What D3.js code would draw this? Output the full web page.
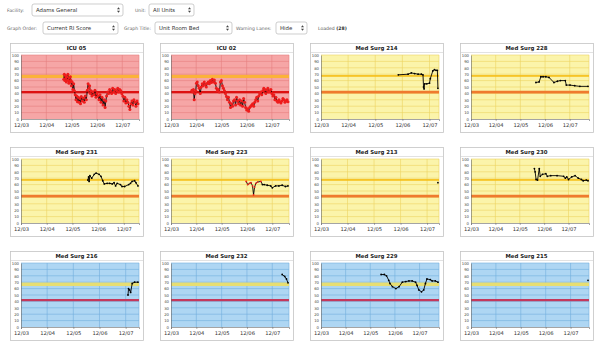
<!DOCTYPE html>
<html><head><meta charset="utf-8">
<script src="https://cdn.jsdelivr.net/npm/d3@7"></script>
<style>
html,body{margin:0;padding:0;background:#fff;}
svg{display:block;font-family:"DejaVu Sans",Verdana,sans-serif;}
</style></head>
<body><svg id="c" width="600" height="341"></svg>
<script>
// ---------- DATA ----------
const dayLabels = ["12/03","12/04","12/05","12/06","12/07"];
const yTicks = [0,10,20,30,40,50,60,70,80,90,100];
const titles = ["ICU 05","ICU 02","Med Surg 214","Med Surg 228","Med Surg 231","Med Surg 223","Med Surg 213","Med Surg 230","Med Surg 216","Med Surg 232","Med Surg 229","Med Surg 215"];
const risk = ["high","high","medium","medium","medium","medium","medium","medium","low","low","low","low"];
// times are days since 12/03 00:00
const icu05T = [1.69,1.71,1.73,1.75,1.77,1.79,1.81,1.83,1.85,1.87,1.89,1.91,1.93,1.95,1.97,1.99,2.02,2.05,2.08,2.11,2.14,2.17,2.20,2.23,2.26,2.29,2.32,2.35,2.38,2.42,2.46,2.50,2.54,2.58,2.62,2.65,2.68,2.71,2.74,2.77,2.80,2.84,2.88,2.92,2.96,3.00,3.04,3.08,3.12,3.16,3.20,3.24,3.28,3.32,3.35,3.38,3.42,3.46,3.50,3.54,3.58,3.62,3.66,3.70,3.74,3.78,3.82,3.86,3.90,3.94,3.98,4.02,4.06,4.10,4.14,4.18,4.22,4.26,4.30,4.34,4.38,4.42,4.46,4.50,4.54,4.58,4.62];
const icu05V = [62,70,60,68,64,58,66,61,70,60,56,64,58,66,60,52,58,46,55,44,38,30,36,27,34,26,32,24,35,28,33,26,36,30,45,55,48,52,40,44,36,42,38,45,34,40,36,30,38,26,34,22,30,18,28,36,42,40,46,44,40,48,42,46,40,44,48,42,46,44,40,36,28,34,25,30,26,20,15,24,28,22,30,26,20,28,24];
const icu02T = [0.83,0.86,0.89,0.92,0.95,0.98,1.01,1.04,1.08,1.12,1.16,1.20,1.24,1.28,1.32,1.36,1.40,1.44,1.48,1.52,1.56,1.60,1.64,1.68,1.72,1.76,1.80,1.84,1.88,1.92,1.96,2.00,2.04,2.08,2.12,2.16,2.20,2.24,2.28,2.32,2.36,2.40,2.44,2.48,2.52,2.56,2.60,2.64,2.68,2.72,2.76,2.80,2.84,2.88,2.92,2.96,3.00,3.04,3.08,3.12,3.16,3.20,3.24,3.28,3.32,3.36,3.40,3.44,3.48,3.52,3.56,3.60,3.64,3.68,3.72,3.76,3.80,3.84,3.88,3.92,3.96,4.00,4.04,4.08,4.12,4.16,4.20,4.24,4.28,4.32,4.36,4.40,4.44,4.48,4.52,4.56,4.60,4.64];
const icu02V = [45,42,46,30,40,44,56,58,52,48,40,50,55,52,58,54,50,56,58,55,60,57,62,58,61,56,48,44,46,42,58,60,52,48,44,40,35,30,34,26,18,24,20,28,30,22,34,28,24,30,22,28,20,32,26,18,14,16,12,18,20,22,24,20,26,30,34,28,36,40,42,38,44,48,46,40,45,48,42,44,46,40,36,38,30,34,28,26,30,27,25,28,32,30,26,28,30,27];
const ms214T = [2.85,3.21,3.33,3.45,3.58,3.70,3.76,3.78,3.80,3.82,3.90,4.00,4.03,4.12,4.18,4.24,4.29,4.31];
const ms214V = [69,70,72,71,70,70,69,50,47,55,55,56,63,75,77,76,76,48];
const ms228T = [2.63,2.76,2.83,2.92,3.03,3.16,3.36,3.50,3.62,3.82,3.86,4.01,4.20,4.41,4.74];
const ms228V = [57,58,66,66,66,65,57,59,60,60,53,53,52,51,51];
const ms231T = [2.60,2.63,2.65,2.68,2.75,2.85,2.92,3.04,3.11,3.18,3.24,3.35,3.45,3.55,3.62,3.68,3.74,3.87,3.93,4.03,4.19,4.26,4.32,4.42,4.47,4.55];
const ms231V = [67,72,65,74,70,76,78,76,73,66,61,62,62,61,63,58,62,60,57,57,60,62,65,66,63,58];
const ms223T = [2.97,3.03,3.10,3.16,3.22,3.26,3.30,3.35,3.42,3.55,3.61,3.68,3.80,3.94,4.00,4.13,4.26,4.39,4.52,4.62];
const ms223V = [65,60,62,63,58,44,56,62,64,65,60,60,59,58,55,58,58,59,57,58];
const ms223RedUntil = 3.56;
const ms213T = [4.41];
const ms213V = [63];
const ms230T = [2.60,2.63,2.67,2.73,2.80,2.84,2.93,3.07,3.13,3.27,3.53,3.80,3.87,3.93,4.00,4.13,4.27,4.40,4.53,4.60,4.73,4.80];
const ms230V = [85,80,68,67,85,73,76,77,73,74,74,73,70,72,68,72,74,70,68,66,67,66];
const ms216T = [4.09,4.11,4.15,4.19,4.25,4.34,4.47];
const ms216V = [50,60,58,54,68,70,70];
const ms232T = [4.39,4.49,4.56,4.62];
const ms232V = [82,79,75,69];
const ms229T = [2.44,2.57,2.66,2.75,2.80,2.90,3.04,3.17,3.30,3.44,3.57,3.70,3.84,3.90,3.97,4.08,4.17,4.24,4.30,4.44,4.51,4.64,4.75];
const ms229V = [82,82,80,73,68,63,60,63,70,71,72,72,70,65,58,55,58,68,75,74,72,72,70];
const ms215T = [4.70];
const ms215V = [73];
const seriesT = [icu05T,icu02T,ms214T,ms228T,ms231T,ms223T,ms213T,ms230T,ms216T,ms232T,ms229T,ms215T];
const seriesV = [icu05V,icu02V,ms214V,ms228V,ms231V,ms223V,ms213V,ms230V,ms216V,ms232V,ms229V,ms215V];
const warnLower = 42;

// ---------- STYLE ----------
const themes = {
  high:   {bg:"#f6a6a6", grid:"#e57f7f", band:"#fbb23a", bandLo:64, bandHi:69, lower:"#dd1111", lowerW:2.2},
  medium: {bg:"#fbf4aa", grid:"#ecd462", band:"#f6bf1a", bandLo:66, bandHi:68.6, lower:"#ef7a2e", lowerW:2.6},
  low:    {bg:"#aed6f3", grid:"#72aedd", band:"#e7de72", bandLo:64, bandHi:69.5, lower:"#c4385c", lowerW:2.2}
};
const colX = [10,160,310,460], rowY = [43,147,251];
const PW = 133, PH = 89;

const svg = d3.select("#c");

// ---------- HEADER ----------
const hdr = svg.append("g");
function label(x,y,t){ hdr.append("text").attr("x",x).attr("y",y).attr("font-size",4.6).attr("fill","#666").text(t); }
function select(x,y,w,h,t){
  const g = hdr.append("g");
  g.append("rect").attr("x",x).attr("y",y).attr("width",w).attr("height",h).attr("rx",2)
   .attr("fill","#fff").attr("stroke","#b9b9b9").attr("stroke-width",0.7);
  g.append("text").attr("x",x+4).attr("y",y+h/2+2).attr("font-size",5.4).attr("fill","#333").text(t);
  g.append("path").attr("d",`M${x+w-6},${y+h/2-0.8} l1.5,-2 l1.5,2 Z M${x+w-6},${y+h/2+0.8} l1.5,2 l1.5,-2 Z`).attr("fill","#444");
}
label(7,12,"Facility:"); select(32,4,91,12,"Adams General");
label(135,12,"Unit:"); select(149,4,45,12,"All Units");
label(7,30,"Graph Order:"); select(43,22,75,12,"Current RI Score");
label(124,30,"Graph Title:"); select(155,22,77,12,"Unit Room Bed");
label(236,30,"Warning Lanes:"); select(276,22,31,12,"Hide");
const lt = hdr.append("text").attr("x",318).attr("y",30).attr("font-size",4.6).attr("fill","#555");
lt.append("tspan").text("Loaded ");
lt.append("tspan").attr("font-weight","bold").attr("fill","#333").text("(28)");

// ---------- PANELS ----------
titles.forEach((title,i)=>{
  const px = colX[i%4], py = rowY[Math.floor(i/4)];
  const th = themes[risk[i]];
  const T = seriesT[i], V = seriesV[i];
  const data = T.map((t,k)=>({t, v:V[k]}));
  const g = svg.append("g");
  g.append("rect").attr("x",px+0.5).attr("y",py+0.5).attr("width",PW).attr("height",PH)
    .attr("fill","#fff").attr("stroke","#c4c4c4").attr("stroke-width",0.8);
  g.append("line").attr("x1",px+1).attr("x2",px+PW).attr("y1",py+9.5).attr("y2",py+9.5).attr("stroke","#e2e2e2");
  g.append("text").attr("x",px+PW/2).attr("y",py+7.3).attr("text-anchor","middle")
    .attr("font-size",5.4).attr("font-weight","bold").attr("fill","#222").text(title);

  const L = px+11, R = px+129, Tp = py+12, B = py+76;
  const end = d3.max(T) + 0.04;
  const x = d3.scaleLinear().domain([0,end]).range([L,R]);
  const y = d3.scaleLinear().domain([0,100]).range([B,Tp]);

  g.append("rect").attr("x",L).attr("y",Tp).attr("width",R-L).attr("height",B-Tp).attr("fill",th.bg);
  g.selectAll(".hg").data(yTicks.slice(1)).join("line")
    .attr("x1",L).attr("x2",R).attr("y1",d=>y(d)).attr("y2",d=>y(d))
    .attr("stroke",th.grid).attr("stroke-width",0.6);
  const dayTicks = dayLabels.map((d,k)=>k);
  g.selectAll(".vg").data(dayTicks.slice(1)).join("line")
    .attr("x1",d=>x(d)).attr("x2",d=>x(d)).attr("y1",Tp).attr("y2",B)
    .attr("stroke",th.grid).attr("stroke-width",0.6);
  g.append("line").attr("x1",R).attr("x2",R).attr("y1",Tp).attr("y2",B).attr("stroke",th.grid).attr("stroke-width",0.6);
  g.append("rect").attr("x",L).attr("width",R-L).attr("y",y(th.bandHi)).attr("height",y(th.bandLo)-y(th.bandHi)).attr("fill",th.band);
  g.append("line").attr("x1",L).attr("x2",R).attr("y1",y(warnLower)).attr("y2",y(warnLower))
    .attr("stroke",th.lower).attr("stroke-width",th.lowerW);

  const ya = d3.axisLeft(y).tickValues(yTicks).tickSize(0).tickPadding(2);
  const yg = g.append("g").attr("transform",`translate(${L},0)`).call(ya);
  yg.select(".domain").attr("stroke","#666").attr("stroke-width",0.6);
  yg.selectAll("text").attr("font-size",3.8).attr("fill","#444").attr("font-family","DejaVu Sans, sans-serif");
  const xa = d3.axisBottom(x).tickValues(dayTicks).tickFormat(d=>dayLabels[d]).tickSize(2).tickPadding(2);
  const xg = g.append("g").attr("transform",`translate(0,${B})`).call(xa);
  xg.select(".domain").attr("stroke","#666").attr("stroke-width",0.6);
  xg.selectAll("line").attr("stroke","#666").attr("stroke-width",0.5);
  xg.selectAll("text").attr("font-size",5.2).attr("fill","#333").attr("font-family","DejaVu Sans, sans-serif");

  const line = d3.line().x(d=>x(d.t)).y(d=>y(d.v));
  g.append("path").datum(data).attr("d",line).attr("fill","none").attr("stroke","#000").attr("stroke-width",0.9);
  g.selectAll(".pt").data(data).join("circle")
    .attr("cx",d=>x(d.t)).attr("cy",d=>y(d.v))
    .attr("r", risk[i]==="high" ? 1.5 : 0.9)
    .attr("fill", d => (risk[i]==="high" || (title==="Med Surg 223" && d.t < ms223RedUntil)) ? "#ee1c1c" : "#000");
});
</script></body></html>
